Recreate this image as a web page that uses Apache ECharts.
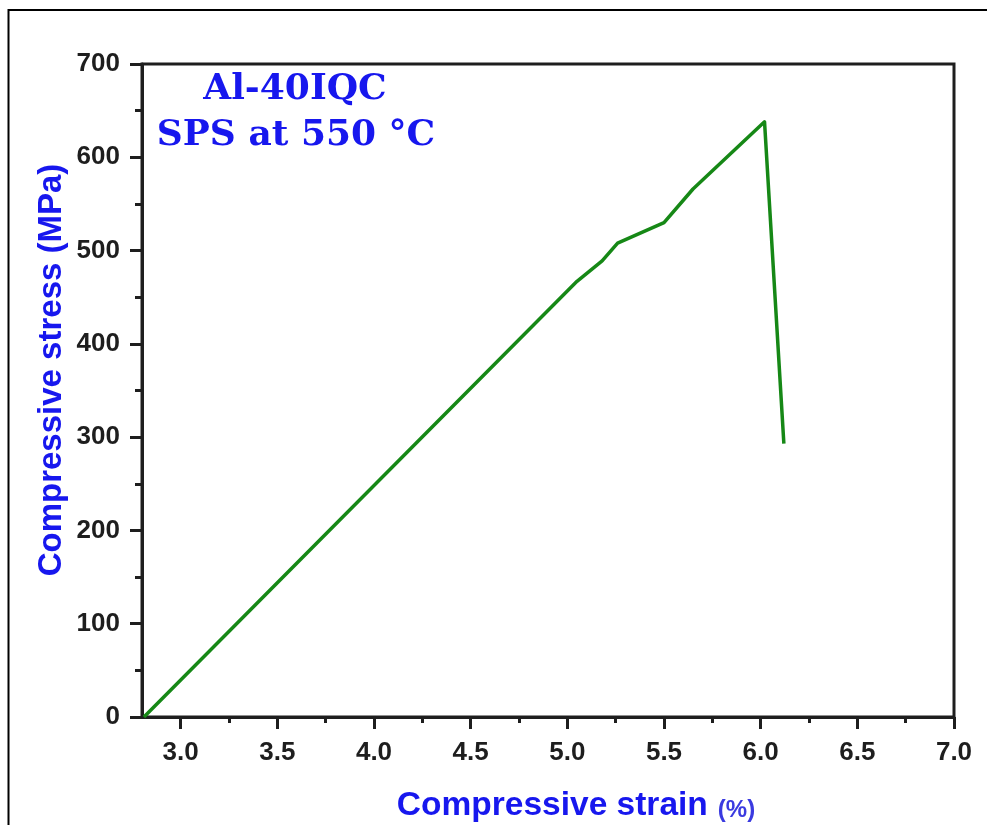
<!DOCTYPE html>
<html>
<head>
<meta charset="utf-8">
<script src="https://cdn.jsdelivr.net/npm/echarts@6/dist/echarts.min.js"></script>
<style>
  html, body { margin: 0; padding: 0; background: #fff; }
  #chart { width: 987px; height: 825px; }
</style>
</head>
<body>
<div id="chart"></div>
<script>
// Compressive stress-strain curve of the SPS-consolidated Al-40IQC composite
const strain = [2.81, 5.05, 5.18, 5.26, 5.50, 5.65, 6.02, 6.12];   // %
const stress = [0, 467, 489, 508, 530, 566, 638, 293];               // MPa

const xMajorTicks = [3.0, 3.5, 4.0, 4.5, 5.0, 5.5, 6.0, 6.5, 7.0];
const xMinorTicks = [3.25, 3.75, 4.25, 4.75, 5.25, 5.75, 6.25, 6.75];

const BLUE = '#1717ee';
const INK = '#1e1e1e';

const chart = echarts.init(document.getElementById('chart'), null, { renderer: 'canvas' });

const curve = strain.map((s, i) => [s, stress[i]]);

chart.setOption({
  animation: false,
  backgroundColor: '#fff',
  grid: {
    left: 142, right: 33, top: 64, bottom: 108,
    show: true, borderColor: INK, borderWidth: 3, backgroundColor: 'transparent'
  },
  xAxis: [
    {
      type: 'value', min: 2.8, max: 7.0,
      axisLine: { show: true, onZero: false, lineStyle: { color: INK, width: 3 } },
      axisTick: { show: true, inside: false, length: 12, customValues: xMajorTicks, lineStyle: { color: INK, width: 3 } },
      axisLabel: {
        show: true, margin: 23, customValues: xMajorTicks,
        formatter: v => v.toFixed(1),
        color: INK, fontFamily: 'Liberation Sans', fontWeight: 'bold', fontSize: 26
      },
      splitLine: { show: false }
    },
    {
      // minor ticks between the labelled strain values
      type: 'value', min: 2.8, max: 7.0, position: 'bottom',
      axisLine: { show: false },
      axisTick: { show: true, inside: false, length: 6, customValues: xMinorTicks, lineStyle: { color: INK, width: 3 } },
      axisLabel: { show: false },
      splitLine: { show: false }
    }
  ],
  yAxis: {
    type: 'value', min: 0, max: 700, interval: 100,
    axisLine: { show: true, onZero: false, lineStyle: { color: INK, width: 3 } },
    axisTick: { show: true, inside: false, length: 12, lineStyle: { color: INK, width: 3 } },
    minorTick: { show: true, splitNumber: 2, length: 7, lineStyle: { color: INK, width: 3 } },
    axisLabel: {
      margin: 22, color: INK, fontFamily: 'Liberation Sans', fontWeight: 'bold', fontSize: 26
    },
    splitLine: { show: false }
  },
  series: [{
    type: 'line',
    data: curve,
    xAxisIndex: 0,
    symbol: 'none',
    lineStyle: { color: '#168816', width: 3.5, join: 'round' },
    clip: false
  }],
  graphic: [
    {
      type: 'rect', silent: true,
      shape: { x: 8.5, y: 10, width: 1000, height: 900 },
      style: { fill: 'none', stroke: '#000', lineWidth: 2 }
    },
    {
      type: 'text', x: 295, y: 90,
      style: {
        text: 'Al-40IQC', fill: BLUE, align: 'center', verticalAlign: 'middle',
        font: 'bold 36px "DejaVu Serif"'
      }
    },
    {
      type: 'text', x: 296, y: 136,
      style: {
        text: 'SPS at 550 °C', fill: BLUE, align: 'center', verticalAlign: 'middle',
        font: 'bold 36px "DejaVu Serif"'
      }
    },
    {
      type: 'text', x: 52, y: 370, rotation: Math.PI / 2,
      style: {
        text: 'Compressive stress (MPa)', fill: BLUE, align: 'center', verticalAlign: 'middle',
        font: 'bold 33px "Liberation Sans"'
      }
    },
    {
      type: 'text', x: 576, y: 806,
      style: {
        text: '{m|Compressive strain}{s|(%)}', align: 'center', verticalAlign: 'middle',
        rich: {
          m: { fill: BLUE, font: 'bold 33.5px "Liberation Sans"' },
          s: { fill: '#3a3ae0', font: 'bold 24px "Liberation Sans"', padding: [8, 0, 0, 10] }
        }
      }
    }
  ]
});
</script>
</body>
</html>
